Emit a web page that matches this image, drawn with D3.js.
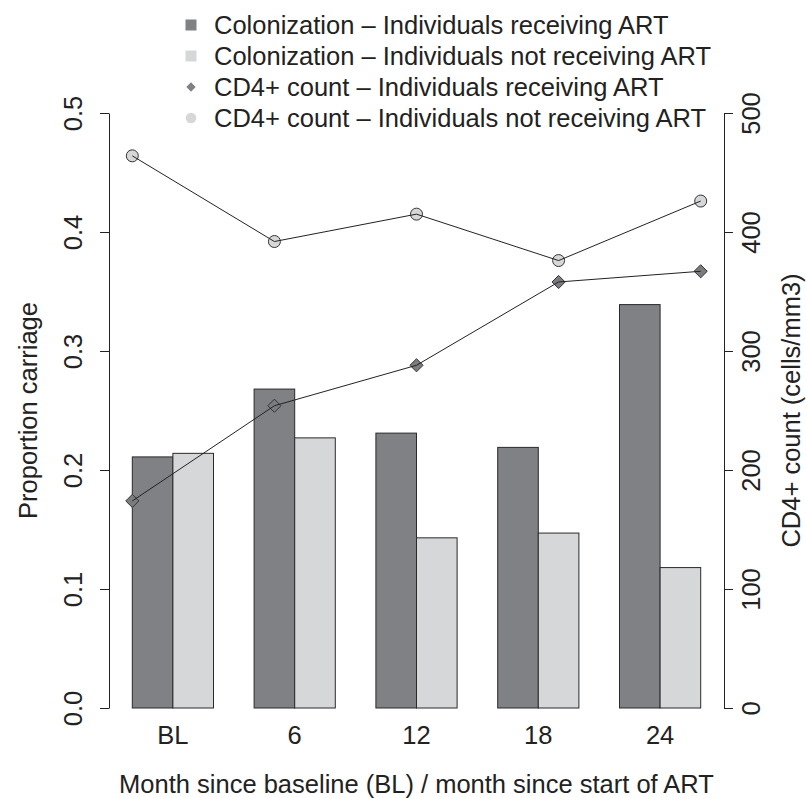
<!DOCTYPE html>
<html>
<head>
<meta charset="utf-8">
<script src="https://cdn.jsdelivr.net/npm/d3@7"></script>
<style>
  html, body { margin: 0; padding: 0; background: #fff; }
  svg { display: block; font-family: "Liberation Sans", Arial, Helvetica, sans-serif; }
</style>
</head>
<body>
<svg id="chart" width="806" height="798"></svg>
<script>
// Visit labels
const months = ["BL", "6", "12", "18", "24"];
// Proportion colonized (left axis)
const colonizationART = [0.211, 0.268, 0.231, 0.219, 0.339];
const colonizationNoART = [0.214, 0.227, 0.143, 0.147, 0.118];
// Mean CD4+ count, cells/mm3 (right axis)
const cd4ART = [174, 254, 288, 358, 367];
const cd4NoART = [464, 392, 415, 376, 426];
// Axis ticks
const leftTicks = [0, 0.1, 0.2, 0.3, 0.4, 0.5];
const rightTicks = [0, 100, 200, 300, 400, 500];
const legendLabels = [
  "Colonization \u2013 Individuals receiving ART",
  "Colonization \u2013 Individuals not receiving ART",
  "CD4+ count \u2013 Individuals receiving ART",
  "CD4+ count \u2013 Individuals not receiving ART"
];

const darkFill = "#808185";
const lightFill = "#d6d7d9";
const ink = "#222";
const fontSize = 25.5;

const svg = d3.select("#chart");

const axisLeftX = 109, axisRightX = 724;
const yL = d3.scaleLinear().domain([0, 0.5]).range([708, 113]);
const yR = d3.scaleLinear().domain([0, 500]).range([708, 113]);

// Groups: two bars per month, one-bar gap between months
const xGroup = d3.scaleBand().domain(months).range([112, 721])
  .paddingInner(1 / 3).paddingOuter(1 / 6);
const xBar = d3.scaleBand().domain(["ART", "noART"]).range([0, xGroup.bandwidth()]);
// CD4 lines span from first bar edge to last bar edge
const xPoint = d3.scalePoint().domain(months)
  .range([xGroup(months[0]), xGroup(months[months.length - 1]) + xGroup.bandwidth()]);

// Bars
const barData = months.flatMap((m, i) => [
  { m, key: "ART", v: colonizationART[i], fill: darkFill },
  { m, key: "noART", v: colonizationNoART[i], fill: lightFill }
]);
svg.append("g").selectAll("rect").data(barData).join("rect")
  .attr("x", d => xGroup(d.m) + xBar(d.key))
  .attr("y", d => yL(d.v))
  .attr("width", xBar.bandwidth())
  .attr("height", d => yL(0) - yL(d.v))
  .attr("fill", d => d.fill)
  .attr("stroke", "#2a2a2a")
  .attr("stroke-width", 1);

// Left axis
const gL = svg.append("g").attr("transform", `translate(${axisLeftX},0)`)
  .call(d3.axisLeft(yL).tickValues(leftTicks).tickFormat(d3.format(".1f"))
    .tickSize(9).tickSizeOuter(0));
// Right axis
const gR = svg.append("g").attr("transform", `translate(${axisRightX},0)`)
  .call(d3.axisRight(yR).tickValues(rightTicks).tickFormat(d3.format("d"))
    .tickSize(9).tickSizeOuter(0));
[gL, gR].forEach(g => {
  g.select(".domain").attr("stroke", ink).attr("stroke-width", 1);
  g.selectAll(".tick line").attr("stroke", ink).attr("stroke-width", 1);
  g.selectAll(".tick text").attr("font-size", fontSize).attr("fill", ink)
    .attr("font-family", "Liberation Sans, Arial, sans-serif");
});
// Tick labels run parallel to the axis
gL.selectAll(".tick text")
  .attr("x", null).attr("dy", null)
  .attr("text-anchor", "middle")
  .attr("transform", "translate(-27,0) rotate(-90)");
gR.selectAll(".tick text")
  .attr("x", null).attr("dy", null)
  .attr("text-anchor", "middle")
  .attr("transform", "translate(36,0) rotate(-90)");

// Month labels under the groups
svg.append("g").selectAll("text").data(months).join("text")
  .attr("x", d => xGroup(d) + xGroup.bandwidth() / 2)
  .attr("y", 744)
  .attr("text-anchor", "middle")
  .attr("font-size", fontSize)
  .attr("fill", ink)
  .text(d => d);

// Axis titles
svg.append("text")
  .attr("x", (axisLeftX + axisRightX) / 2).attr("y", 793)
  .attr("text-anchor", "middle").attr("font-size", fontSize).attr("fill", ink)
  .text("Month since baseline (BL) / month since start of ART");
svg.append("text")
  .attr("transform", `translate(37,${(113 + 708) / 2}) rotate(-90)`)
  .attr("text-anchor", "middle").attr("font-size", fontSize).attr("fill", ink)
  .text("Proportion carriage");
svg.append("text")
  .attr("transform", `translate(800,${(113 + 708) / 2}) rotate(-90)`)
  .attr("text-anchor", "middle").attr("font-size", fontSize).attr("fill", ink)
  .text("CD4+ count (cells/mm3)");

// CD4 series: markers, then connecting line over them
const diamond = d3.symbol().type(d3.symbolDiamond2).size(110);
const line = d3.line().x((d, i) => xPoint(months[i])).y(d => yR(d));

svg.append("g").selectAll("circle").data(cd4NoART).join("circle")
  .attr("cx", (d, i) => xPoint(months[i]))
  .attr("cy", d => yR(d))
  .attr("r", 6)
  .attr("fill", lightFill).attr("stroke", "#333").attr("stroke-width", 1);
svg.append("g").selectAll("path").data(cd4ART).join("path")
  .attr("transform", (d, i) => `translate(${xPoint(months[i])},${yR(d)})`)
  .attr("d", diamond)
  .attr("fill", "#7b7c80").attr("stroke", "#333").attr("stroke-width", 1);

svg.append("path").datum(cd4NoART).attr("d", line)
  .attr("fill", "none").attr("stroke", "#222").attr("stroke-width", 1);
svg.append("path").datum(cd4ART).attr("d", line)
  .attr("fill", "none").attr("stroke", "#222").attr("stroke-width", 1);

// Legend
const legendY = [25, 56, 87, 118];
const legendSymX = 191, legendTextX = 214;
const lg = svg.append("g");
lg.append("rect").attr("x", legendSymX - 5.5).attr("y", legendY[0] - 5.5)
  .attr("width", 11).attr("height", 11).attr("fill", darkFill);
lg.append("rect").attr("x", legendSymX - 5.5).attr("y", legendY[1] - 5.5)
  .attr("width", 11).attr("height", 11).attr("fill", lightFill);
lg.append("path").attr("transform", `translate(${legendSymX},${legendY[2]})`)
  .attr("d", d3.symbol().type(d3.symbolDiamond2).size(55)).attr("fill", darkFill);
lg.append("circle").attr("cx", legendSymX).attr("cy", legendY[3]).attr("r", 5.3)
  .attr("fill", lightFill);
lg.selectAll("text").data(legendLabels).join("text")
  .attr("x", legendTextX)
  .attr("y", (d, i) => legendY[i])
  .attr("dy", "0.36em")
  .attr("font-size", fontSize).attr("fill", ink)
  .text(d => d);
</script>
</body>
</html>
